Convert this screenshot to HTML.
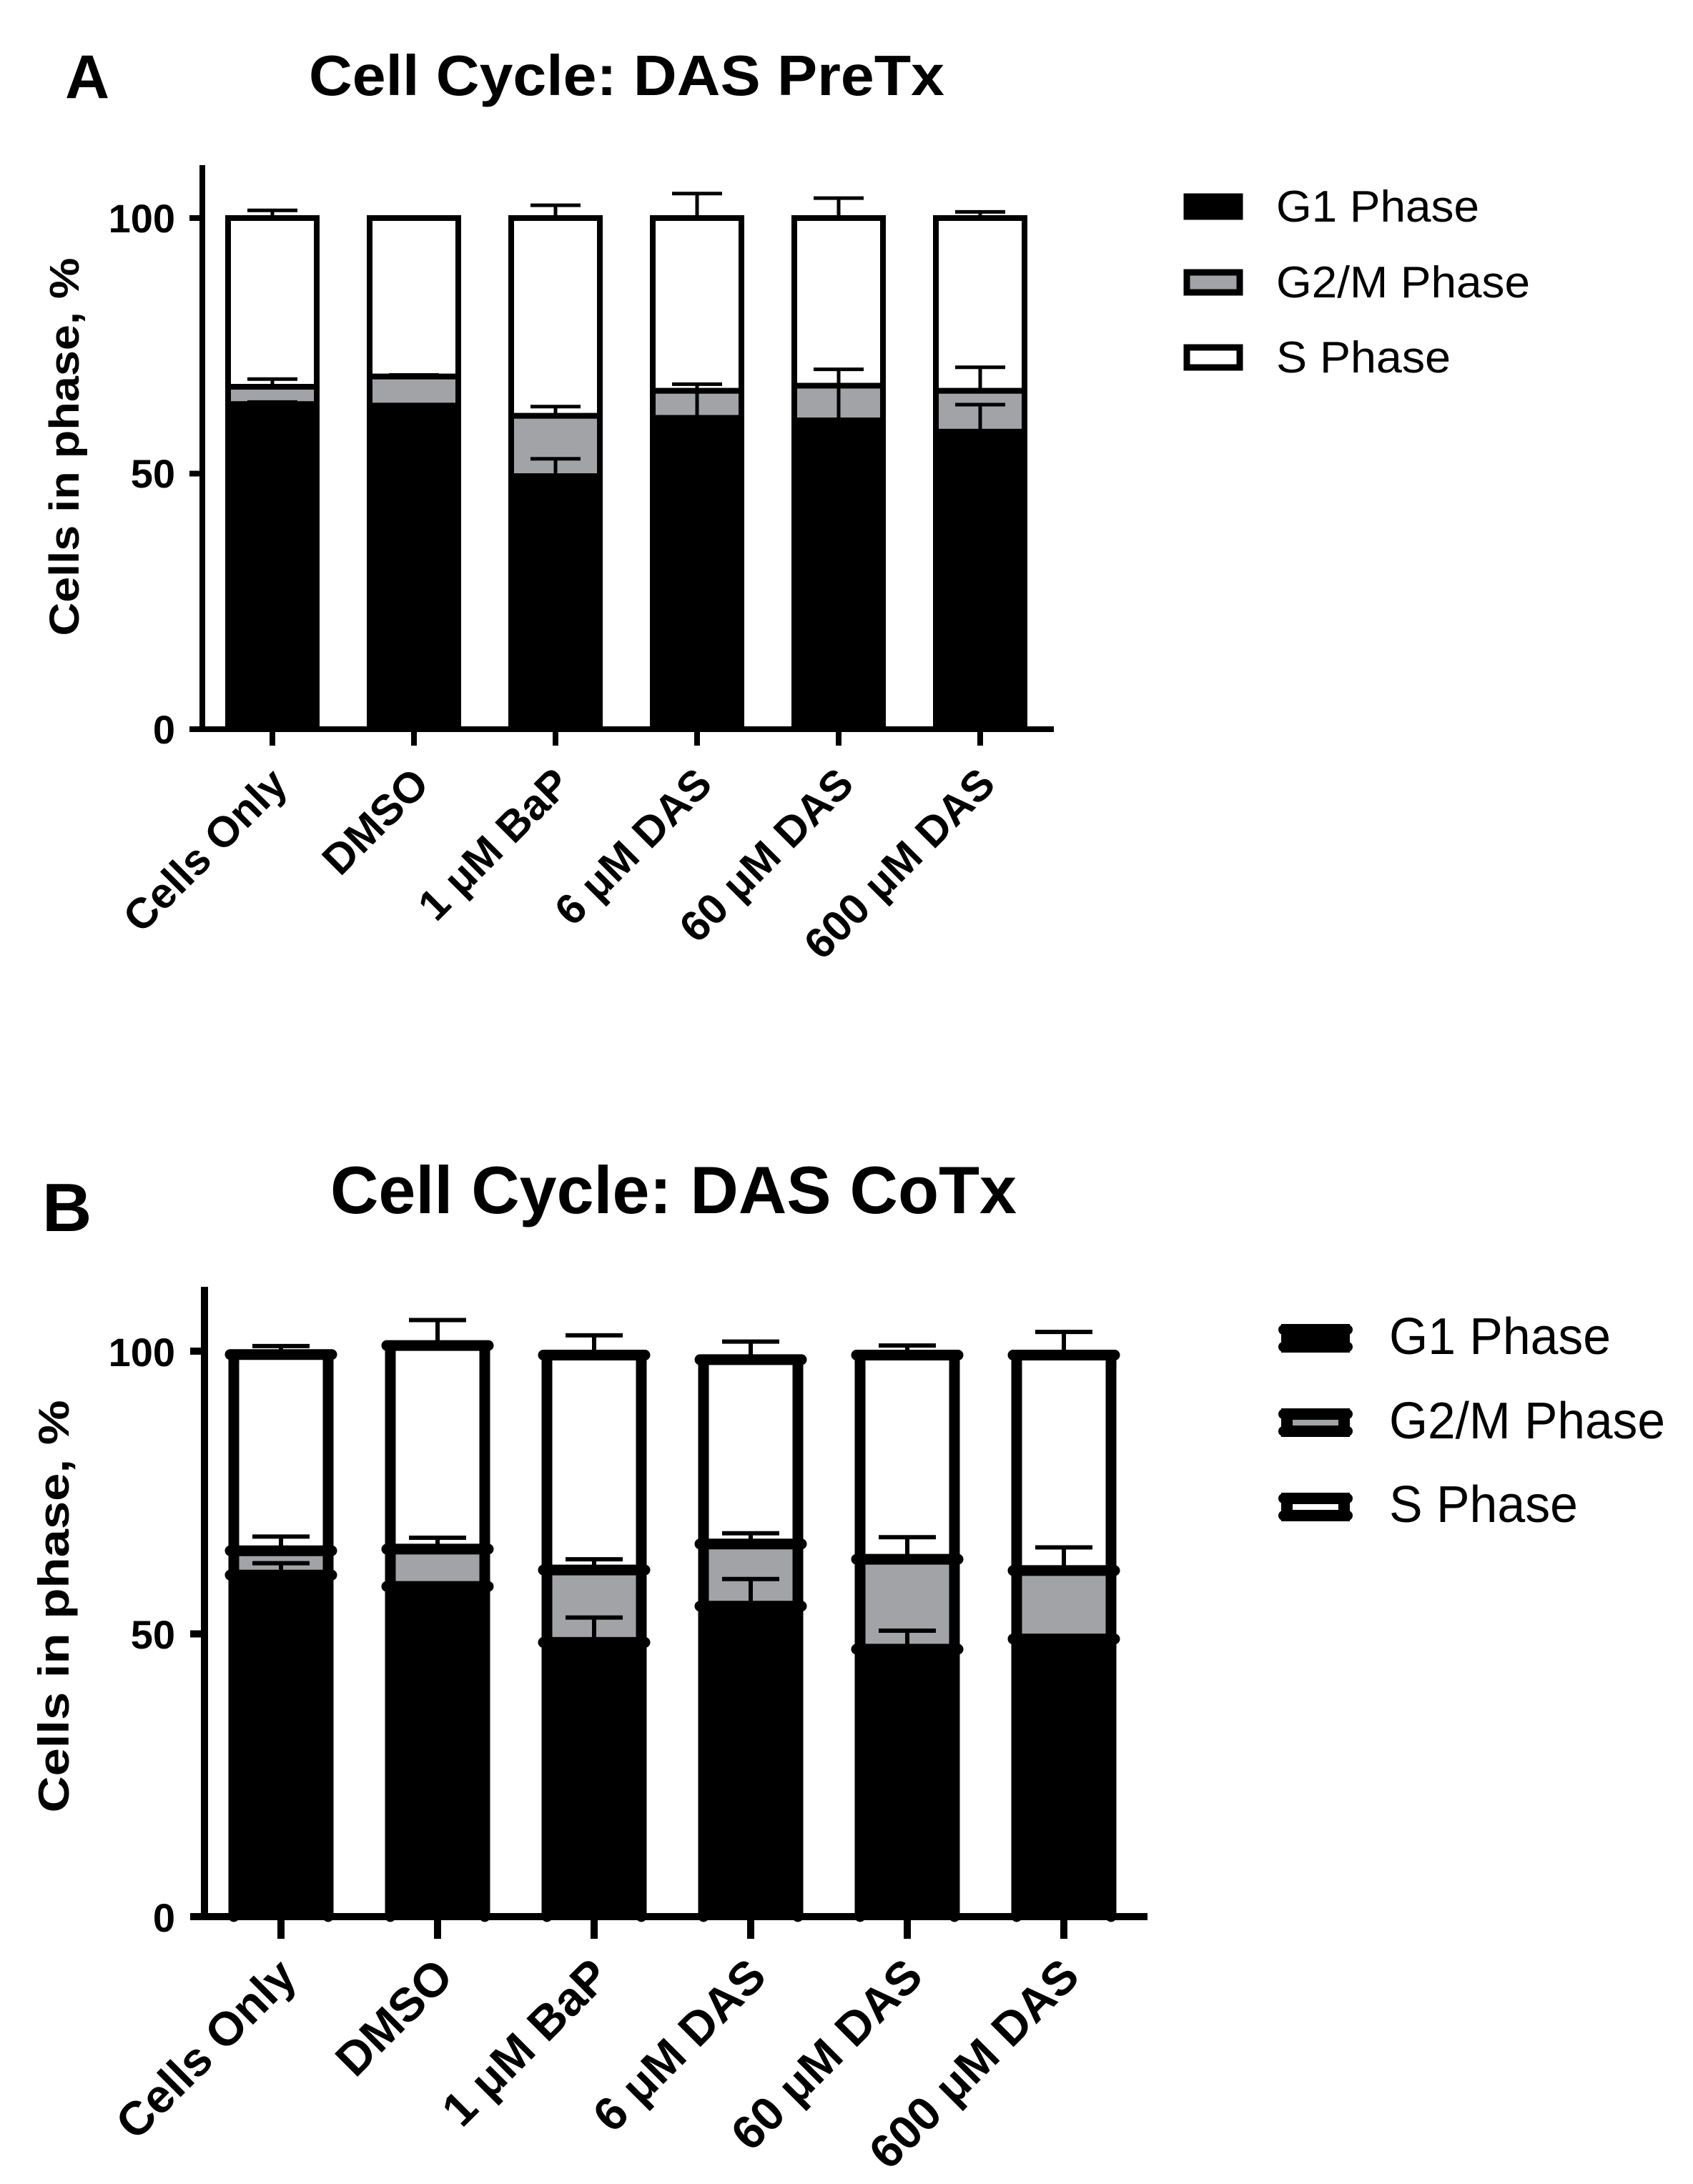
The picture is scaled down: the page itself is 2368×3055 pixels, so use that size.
<!DOCTYPE html>
<html><head><meta charset="utf-8"><style>
html,body{margin:0;padding:0;background:#fff;}
svg{display:block;}
text{font-family:"Liberation Sans",Arial,sans-serif;fill:#000;}
.b{font-weight:bold;}
</style></head><body>
<svg width="2368" height="3055" viewBox="0 0 2368 3055" xmlns="http://www.w3.org/2000/svg">
<!-- Panel A -->
<text x="91" y="137" class="b" font-size="86">A</text>
<text x="432" y="133" class="b" font-size="80" textLength="889" lengthAdjust="spacingAndGlyphs">Cell Cycle: DAS PreTx</text>
<text transform="translate(110,625) rotate(-90)" text-anchor="middle" class="b" font-size="58" textLength="529" lengthAdjust="spacingAndGlyphs">Cells in phase, %</text>
<g class="b" font-size="56" text-anchor="end">
<text x="245" y="325">100</text><text x="245" y="682">50</text><text x="245" y="1040">0</text>
</g>
<g stroke="#000" stroke-width="8" fill="none">
<line x1="283" y1="231" x2="283" y2="1024"/>
<line x1="265" y1="1020" x2="1474" y2="1020"/>
<line x1="265" y1="305" x2="283" y2="305"/><line x1="265" y1="662.5" x2="283" y2="662.5"/>
<line x1="381" y1="1020" x2="381" y2="1043"/><line x1="579" y1="1020" x2="579" y2="1043"/><line x1="777" y1="1020" x2="777" y2="1043"/><line x1="975" y1="1020" x2="975" y2="1043"/><line x1="1173" y1="1020" x2="1173" y2="1043"/><line x1="1371" y1="1020" x2="1371" y2="1043"/>
</g>
<g stroke="#000" stroke-width="8">
<rect x="319" y="305" width="124" height="236" fill="#fff"/><rect x="319" y="541" width="124" height="24.3" fill="#a2a3a6"/><rect x="319" y="565.3" width="124" height="454.7" fill="#000"/>
<rect x="517" y="305" width="124" height="221.7" fill="#fff"/><rect x="517" y="526.7" width="124" height="40.7" fill="#a2a3a6"/><rect x="517" y="567.4" width="124" height="452.6" fill="#000"/>
<rect x="715" y="305" width="124" height="276.7" fill="#fff"/><rect x="715" y="581.7" width="124" height="84.4" fill="#a2a3a6"/><rect x="715" y="666.1" width="124" height="353.9" fill="#000"/>
<rect x="913" y="305" width="124" height="241.7" fill="#fff"/><rect x="913" y="546.7" width="124" height="37.9" fill="#a2a3a6"/><rect x="913" y="584.6" width="124" height="435.4" fill="#000"/>
<rect x="1111" y="305" width="124" height="234.5" fill="#fff"/><rect x="1111" y="539.5" width="124" height="48.6" fill="#a2a3a6"/><rect x="1111" y="588.1" width="124" height="431.9" fill="#000"/>
<rect x="1309" y="305" width="124" height="241.7" fill="#fff"/><rect x="1309" y="546.7" width="124" height="57.2" fill="#a2a3a6"/><rect x="1309" y="603.9" width="124" height="416.1" fill="#000"/>
</g>
<g stroke="#000" stroke-width="5" fill="none">
<path d="M381 305V294.3M346 294.3H416 M381 541V530.2M346 530.2H416 M381 565.3V562.4M346 562.4H416"/>
<path d="M579 305V303.6M544 303.6H614 M579 526.7V524.5M544 524.5H614"/>
<path d="M777 305V287.1M742 287.1H812 M777 581.7V568.8M742 568.8H812 M777 666.1V641.8M742 641.8H812"/>
<path d="M975 305V270.7M940 270.7H1010 M975 546.7V537.4M940 537.4H1010 M975 584.6V546"/>
<path d="M1173 305V277.1M1138 277.1H1208 M1173 539.5V516.6M1138 516.6H1208 M1173 588.1V540"/>
<path d="M1371 305V296.4M1336 296.4H1406 M1371 546.7V513.8M1336 513.8H1406 M1371 603.9V566M1336 566H1406"/>
</g>
<g class="b" font-size="60" text-anchor="end">
<text transform="translate(405,1100) rotate(-45)">Cells Only</text>
<text transform="translate(603,1100) rotate(-45)">DMSO</text>
<text transform="translate(801,1100) rotate(-45)">1 μM BaP</text>
<text transform="translate(999,1100) rotate(-45)">6 μM DAS</text>
<text transform="translate(1197,1100) rotate(-45)">60 μM DAS</text>
<text transform="translate(1395,1100) rotate(-45)">600 μM DAS</text>
</g>
<!-- Legend A -->
<rect x="1660" y="275" width="74" height="28" fill="#000" stroke="#000" stroke-width="9"/>
<rect x="1660" y="381" width="74" height="28" fill="#a2a3a6" stroke="#000" stroke-width="9"/>
<rect x="1660" y="486" width="74" height="28" fill="#fff" stroke="#000" stroke-width="9"/>
<g font-size="62">
<text x="1785" y="310" textLength="284" lengthAdjust="spacingAndGlyphs">G1 Phase</text>
<text x="1785" y="416" textLength="355" lengthAdjust="spacingAndGlyphs">G2/M Phase</text>
<text x="1785" y="521" textLength="244" lengthAdjust="spacingAndGlyphs">S Phase</text>
</g>

<!-- Panel B -->
<text x="59" y="1722" class="b" font-size="96">B</text>
<text x="462" y="1697" class="b" font-size="94" textLength="960" lengthAdjust="spacingAndGlyphs">Cell Cycle: DAS CoTx</text>
<text transform="translate(96,2247) rotate(-90)" text-anchor="middle" class="b" font-size="60" textLength="577" lengthAdjust="spacingAndGlyphs">Cells in phase, %</text>
<g class="b" font-size="56" text-anchor="end">
<text x="245" y="1911">100</text><text x="245" y="2306">50</text><text x="245" y="2702">0</text>
</g>
<g stroke="#000" stroke-width="10" fill="none">
<line x1="286" y1="1800" x2="286" y2="2686"/>
<line x1="266" y1="2681" x2="1605" y2="2681"/>
<line x1="266" y1="1890" x2="286" y2="1890"/><line x1="266" y1="2285.5" x2="286" y2="2285.5"/>
<line x1="393" y1="2681" x2="393" y2="2712"/><line x1="612" y1="2681" x2="612" y2="2712"/><line x1="831" y1="2681" x2="831" y2="2712"/><line x1="1050" y1="2681" x2="1050" y2="2712"/><line x1="1269" y1="2681" x2="1269" y2="2712"/><line x1="1488" y1="2681" x2="1488" y2="2712"/>
</g>
<g>
<rect x="327" y="2203.2" width="132" height="477.8" fill="#000"/><rect x="327" y="2169.2" width="132" height="34" fill="#a2a3a6"/>
<rect x="546" y="2219.1" width="132" height="461.9" fill="#000"/><rect x="546" y="2166.9" width="132" height="52.2" fill="#a2a3a6"/>
<rect x="765" y="2297.4" width="132" height="383.6" fill="#000"/><rect x="765" y="2196.1" width="132" height="101.3" fill="#a2a3a6"/>
<rect x="984" y="2246.7" width="132" height="434.3" fill="#000"/><rect x="984" y="2159.7" width="132" height="87" fill="#a2a3a6"/>
<rect x="1203" y="2306.9" width="132" height="374.1" fill="#000"/><rect x="1203" y="2181.1" width="132" height="125.8" fill="#a2a3a6"/>
<rect x="1422" y="2292.6" width="132" height="388.4" fill="#000"/><rect x="1422" y="2196.9" width="132" height="95.7" fill="#a2a3a6"/>
</g>
<g stroke="#000" stroke-width="6" fill="none">
<path d="M393 1894.7V1882.9M353 1882.9H433 M393 2169.2V2149.4M353 2149.4H433 M393 2203.2V2186.6M353 2186.6H433"/>
<path d="M612 1882.1V1846.5M572 1846.5H652 M612 2166.9V2151M572 2151H652"/>
<path d="M831 1895.5V1867.9M791 1867.9H871 M831 2196.1V2181.1M791 2181.1H871 M831 2297.4V2262.6M791 2262.6H871"/>
<path d="M1050 1901.9V1876.6M1010 1876.6H1090 M1050 2159.7V2144.7M1010 2144.7H1090 M1050 2246.7V2208.8M1010 2208.8H1090"/>
<path d="M1269 1895.5V1882.1M1229 1882.1H1309 M1269 2181.1V2150.2M1229 2150.2H1309 M1269 2306.9V2281M1229 2281H1309"/>
<path d="M1488 1895.5V1863.1M1448 1863.1H1528 M1488 2196.9V2164.5M1448 2164.5H1528"/>
</g>
<g stroke="#000" stroke-width="15" stroke-linecap="round" fill="none">
<path d="M327 1894.7V2681M459 1894.7V2681M322 1894.7H464M322 2169.2H464M322 2203.2H464"/>
<path d="M546 1882.1V2681M678 1882.1V2681M541 1882.1H683M541 2166.9H683M541 2219.1H683"/>
<path d="M765 1895.5V2681M897 1895.5V2681M760 1895.5H902M760 2196.1H902M760 2297.4H902"/>
<path d="M984 1901.9V2681M1116 1901.9V2681M979 1901.9H1121M979 2159.7H1121M979 2246.7H1121"/>
<path d="M1203 1895.5V2681M1335 1895.5V2681M1198 1895.5H1340M1198 2181.1H1340M1198 2306.9H1340"/>
<path d="M1422 1895.5V2681M1554 1895.5V2681M1417 1895.5H1559M1417 2196.9H1559M1417 2292.6H1559"/>
</g>
<g class="b" font-size="66" text-anchor="end">
<text transform="translate(418,2768) rotate(-45)">Cells Only</text>
<text transform="translate(637,2768) rotate(-45)">DMSO</text>
<text transform="translate(856,2768) rotate(-45)">1 μM BaP</text>
<text transform="translate(1075,2768) rotate(-45)">6 μM DAS</text>
<text transform="translate(1294,2768) rotate(-45)">60 μM DAS</text>
<text transform="translate(1513,2768) rotate(-45)">600 μM DAS</text>
</g>
<!-- Legend B -->
<rect x="1800" y="1860" width="80" height="24" fill="#000" stroke="#000" stroke-width="16"/>
<rect x="1800" y="1978" width="80" height="24" fill="#a2a3a6" stroke="#000" stroke-width="16"/>
<rect x="1800" y="2096" width="80" height="24" fill="#fff" stroke="#000" stroke-width="16"/>
<g fill="#000">
<circle cx="1795" cy="1860" r="7"/><circle cx="1885" cy="1860" r="7"/><circle cx="1795" cy="1884" r="7"/><circle cx="1885" cy="1884" r="7"/>
<circle cx="1795" cy="1978" r="7"/><circle cx="1885" cy="1978" r="7"/><circle cx="1795" cy="2002" r="7"/><circle cx="1885" cy="2002" r="7"/>
<circle cx="1795" cy="2096" r="7"/><circle cx="1885" cy="2096" r="7"/><circle cx="1795" cy="2120" r="7"/><circle cx="1885" cy="2120" r="7"/>
</g>
<g font-size="72">
<text x="1943" y="1894" textLength="310" lengthAdjust="spacingAndGlyphs">G1 Phase</text>
<text x="1943" y="2012" textLength="386" lengthAdjust="spacingAndGlyphs">G2/M Phase</text>
<text x="1943" y="2129" textLength="264" lengthAdjust="spacingAndGlyphs">S Phase</text>
</g>
</svg>
</body></html>
